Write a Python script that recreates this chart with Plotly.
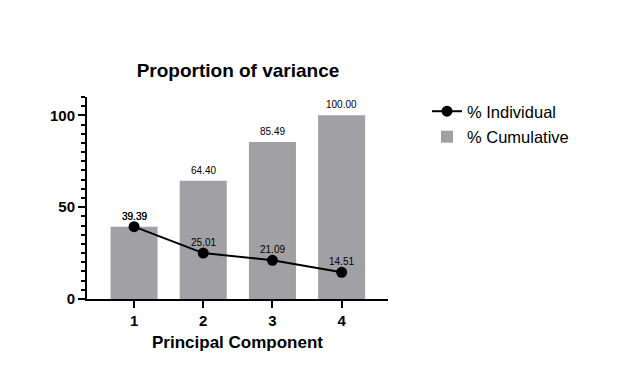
import plotly.graph_objects as go

components = [1, 2, 3, 4]
individual = [39.39, 25.01, 21.09, 14.51]
cumulative = [39.39, 64.40, 85.49, 100.00]
y_ticks = [0, 50, 100]

FONT = "Liberation Sans, Arial, sans-serif"
BAR_COLOR = "#a1a0a5"

fig = go.Figure()
fig.add_trace(go.Bar(
    x=components, y=cumulative, name="% Cumulative",
    marker=dict(color=BAR_COLOR, line=dict(width=0)),
    width=0.68, legendrank=2, legendgroup="b",
))
fig.add_trace(go.Scatter(
    x=components, y=individual, name="% Individual",
    mode="lines+markers",
    line=dict(color="black", width=2),
    marker=dict(color="black", size=11),
    cliponaxis=False, legendrank=1, legendgroup="a",
))

# value labels, positioned by data coordinates
for xs, ys in ((components, cumulative), (components, individual)):
    for xv, yv in zip(xs, ys):
        fig.add_annotation(x=xv, y=yv, text=f"{yv:.2f}", showarrow=False,
                           yanchor="bottom", yshift=3,
                           font=dict(size=10, color="black", family=FONT))

fig.update_layout(
    width=634, height=370,
    margin=dict(l=87, r=246, t=97, b=71, autoexpand=False),
    paper_bgcolor="white", plot_bgcolor="white",
    font=dict(family=FONT, color="black"),
    title=dict(text="<b>Proportion of variance</b>", x=238/634, xanchor="center",
               y=1 - 70/370, yanchor="middle", font=dict(size=19, family=FONT)),
    showlegend=True,
    legend=dict(x=427/634, xref="container", y=1 - 94/370, yref="container",
                xanchor="left", yanchor="top", font=dict(size=16.5, family=FONT),
                bgcolor="rgba(0,0,0,0)", tracegroupgap=1, traceorder="grouped"),
)
fig.update_xaxes(
    range=[0.32, 4.67], tickvals=components, ticktext=[str(c) for c in components],
    showline=True, linecolor="black", linewidth=2, automargin=False,
    ticks="outside", ticklen=7, tickwidth=2, tickcolor="black",
    tickfont=dict(size=15, family=FONT, weight="bold"),
    showgrid=False, zeroline=False,
    title=dict(text="<b>Principal Component</b>", font=dict(size=17, family=FONT), standoff=8),
)
fig.update_yaxes(
    range=[0, 110], tickvals=y_ticks,
    showline=True, linecolor="black", linewidth=2, automargin=False,
    ticks="outside", ticklen=7, tickwidth=2, tickcolor="black",
    tickfont=dict(size=15, family=FONT, weight="bold"),
    minor=dict(dtick=5, ticks="outside", ticklen=4, tickwidth=2, tickcolor="black"),
    showgrid=False, zeroline=False,
)

fig.write_html("out.html", config={"displayModeBar": False},
               post_script="document.body.style.margin='0';")
